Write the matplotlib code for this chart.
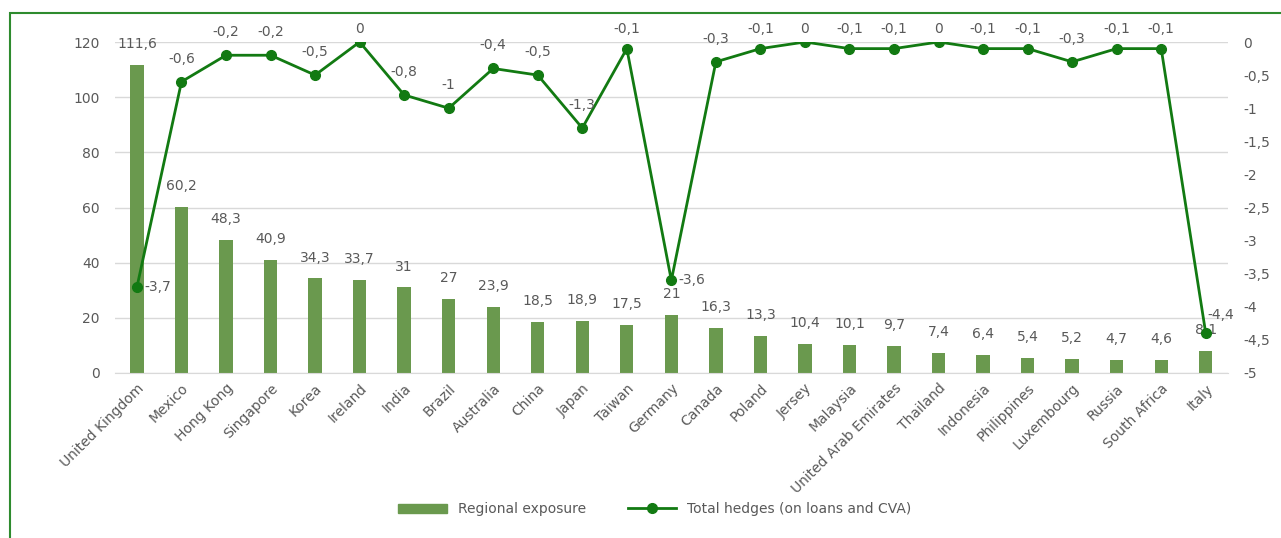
import matplotlib.pyplot as plt
from matplotlib.patches import Rectangle
from matplotlib.ticker import FixedLocator

countries = ['United Kingdom', 'Mexico', 'Hong Kong', 'Singapore', 'Korea', 'Ireland',
             'India', 'Brazil', 'Australia', 'China', 'Japan', 'Taiwan', 'Germany',
             'Canada', 'Poland', 'Jersey', 'Malaysia', 'United Arab Emirates',
             'Thailand', 'Indonesia', 'Philippines', 'Luxembourg', 'Russia',
             'South Africa', 'Italy']
exposure = [111.6, 60.2, 48.3, 40.9, 34.3, 33.7, 31, 27, 23.9, 18.5, 18.9, 17.5, 21,
            16.3, 13.3, 10.4, 10.1, 9.7, 7.4, 6.4, 5.4, 5.2, 4.7, 4.6, 8.1]
hedges = [-3.7, -0.6, -0.2, -0.2, -0.5, 0, -0.8, -1, -0.4, -0.5, -1.3, -0.1, -3.6,
          -0.3, -0.1, 0, -0.1, -0.1, 0, -0.1, -0.1, -0.3, -0.1, -0.1, -4.4]

BAR = '#6a994e'
LINE = '#127a12'
TXT = '#595959'
GRID = '#d9d9d9'

def fmt(v):
    return ('%g' % v).replace('.', ',')

plt.rcParams['font.family'] = ['DejaVu Sans']
fig = plt.figure(figsize=(12.81, 5.38), dpi=100)
W, H = 1281, 538
top_px, bot_px = 42, 373
ax = fig.add_axes([114.7 / W, 1 - bot_px / H, (1228 - 114.7) / W, (bot_px - top_px) / H])
ax2 = ax.twinx()

x = list(range(len(countries)))
ax.bar(x, exposure, width=0.3, color=BAR, zorder=2)
ax.set_xlim(-0.5, len(countries) - 0.5)
ax.set_ylim(0, 120)
ax.yaxis.set_major_locator(FixedLocator(range(0, 121, 20)))
ax.grid(axis='y', color=GRID, lw=1, zorder=0)
ax.set_axisbelow(True)
for i, v in enumerate(exposure):
    ax.annotate(fmt(v), (i, v), xytext=(0, 10), textcoords='offset points',
                ha='center', va='bottom', fontsize=10, color=TXT)

ax2.plot(x, hedges, color=LINE, lw=2, marker='o', ms=7, zorder=3)
ax2.set_ylim(-5, 0)
ax2.yaxis.set_major_locator(FixedLocator([i * 0.5 for i in range(-10, 1)]))
ax2.yaxis.set_major_formatter(plt.FuncFormatter(lambda v, p: fmt(round(v, 1))))
for i, v in enumerate(hedges):
    if countries[i] in ('United Kingdom', 'Germany'):
        ax2.annotate(fmt(v), (i, v), xytext=(5, 0), textcoords='offset points',
                     ha='left', va='center', fontsize=10, color=TXT)
    elif countries[i] == 'Italy':
        ax2.annotate(fmt(v), (i, v), xytext=(1, 8), textcoords='offset points',
                     ha='left', va='bottom', fontsize=10, color=TXT)
    else:
        # labels above, kept inside the chart area near the top
        ypx = top_px + (-v / 5) * (bot_px - top_px)
        lab = max(ypx - 23, 29)
        ax2.annotate(fmt(v), (i, v), xytext=(0, (ypx - lab) * 0.72),
                     textcoords='offset points',
                     ha='center', va='center', fontsize=10, color=TXT)

for a in (ax, ax2):
    for s in a.spines.values():
        s.set_visible(False)
    a.tick_params(axis='y', length=0, labelsize=10, labelcolor=TXT, pad=11)
ax.spines['bottom'].set_visible(True)
ax.spines['bottom'].set_color(GRID)
ax.set_xticks(x)
ax.set_xticklabels(countries, rotation=45, ha='right', rotation_mode='anchor',
                   fontsize=10, color=TXT)
ax.tick_params(axis='x', length=0, pad=6)

# legend
h2, = ax2.plot([], [], color=LINE, lw=2, marker='o', ms=7)
fig.legend([Rectangle((0, 0), 1, 1, color=BAR), h2],
           ['Regional exposure', 'Total hedges (on loans and CVA)'],
           loc='center', bbox_to_anchor=(655 / W, 1 - 509 / H), ncol=2,
           frameon=False, fontsize=10, labelcolor=TXT, handlelength=3.5,
           handleheight=0.6, columnspacing=3)

fig.patches.append(Rectangle((9.5 / W, -0.1), 1.1, 1 - 13.5 / H + 0.1,
                             transform=fig.transFigure, fill=False,
                             edgecolor='#2e8b2e', lw=1.5))
fig.savefig('out.png', dpi=100)
